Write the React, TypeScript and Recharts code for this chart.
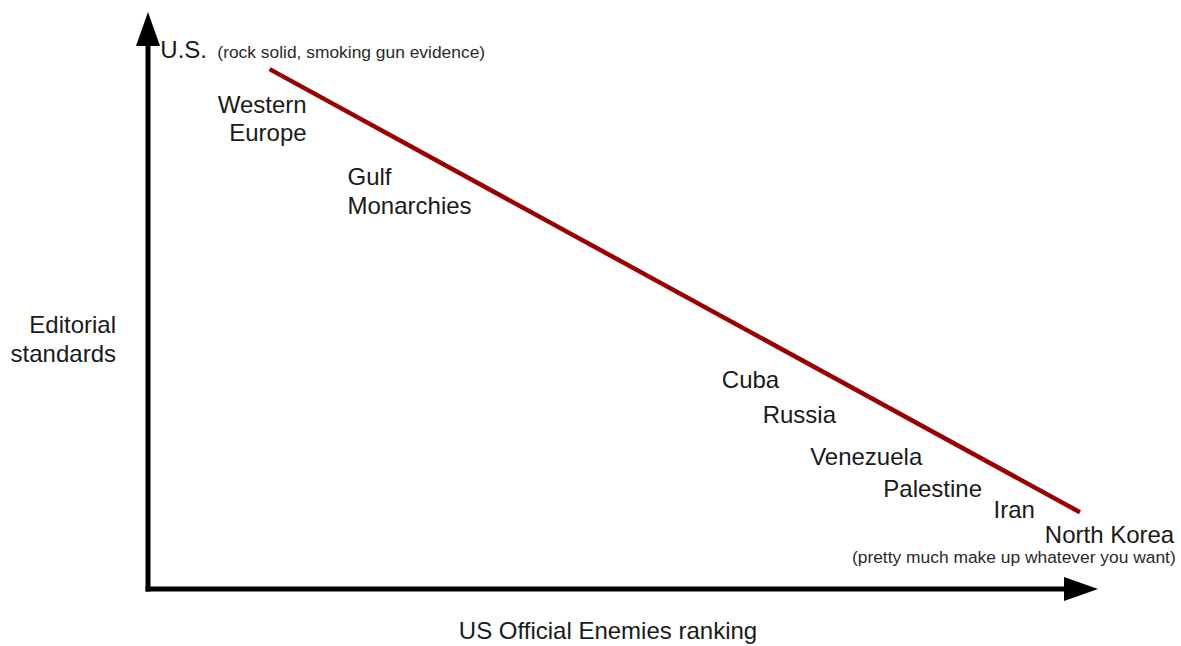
import React from "react";
import {
  ComposedChart,
  XAxis,
  YAxis,
  Line,
  Scatter,
  ReferenceLine,
} from "recharts";

// who gets named on the chart, and where they sit (x = enemies ranking, y = editorial standards)
const PLACES = [
  "U.S.",
  "Western Europe",
  "Gulf Monarchies",
  "Cuba",
  "Russia",
  "Venezuela",
  "Palestine",
  "Iran",
  "North Korea",
];
const RANKING = [0.13, 1.67, 2.1, 6.04, 6.47, 6.97, 7.74, 8.9, 9.44];
const STANDARDS = [9.2, 8.25, 7.0, 3.48, 2.88, 2.15, 1.59, 1.23, 0.8];

// the little bracketed asides
const NOTES = [
  "(rock solid, smoking gun evidence)",
  "(pretty much make up whatever you want)",
];
const NOTE_RANKING = [0.73, 7.41];
const NOTE_STANDARDS = [9.2, 0.45];

// the trend line
const TREND_RANKING = [1.28, 9.81];
const TREND_STANDARDS = [9.01, 1.33];

const X_TITLE = ["US Official Enemies ranking"];
const Y_TITLE = ["Editorial", "standards"];

const FONT = "'Liberation Sans', Arial, Helvetica, sans-serif";
const WRAPPED = new Set(["Western Europe", "Gulf Monarchies"]);
const ANCHOR: Record<string, "start" | "end"> = { "Western Europe": "end" };

const places = PLACES.map((name, i) => ({ name, x: RANKING[i], y: STANDARDS[i] }));
const notes = NOTES.map((name, i) => ({ name, x: NOTE_RANKING[i], y: NOTE_STANDARDS[i] }));
const trend = TREND_RANKING.map((x, i) => ({ x, y: TREND_STANDARDS[i] }));

function PlaceLabel(props: any) {
  const { cx, cy, payload } = props;
  const lines = WRAPPED.has(payload.name) ? payload.name.split(" ") : [payload.name];
  return (
    <text
      x={cx}
      y={cy}
      textAnchor={ANCHOR[payload.name] || "start"}
      fontFamily={FONT}
      fontSize={24}
      fill="#1a1a1a"
    >
      {lines.map((l: string, i: number) => (
        <tspan key={l} x={cx} dy={i === 0 ? 0 : 28.5}>
          {l}
        </tspan>
      ))}
    </text>
  );
}

function NoteLabel(props: any) {
  const { cx, cy, payload } = props;
  return (
    <text x={cx} y={cy} fontFamily={FONT} fontSize={17.4} fill="#2a2a2a">
      {payload.name}
    </text>
  );
}

// thick axis with a filled arrowhead; the axis title hangs off it
function AxisArrow(props: any) {
  const { x1, y1, x2, y2, title, vertical } = props;
  const len = Math.hypot(x2 - x1, y2 - y1);
  const ux = (x2 - x1) / len;
  const uy = (y2 - y1) / len;
  const head = 34;
  const half = 12;
  const bx = x2 - ux * head;
  const by = y2 - uy * head;
  const px = -uy;
  const py = ux;

  let titleEl = null;
  if (vertical) {
    const tx = x1 - 32;
    const mid = (y1 + y2) / 2;
    titleEl = (
      <text x={tx} y={mid + 32} textAnchor="end" fontFamily={FONT} fontSize={24} fill="#1a1a1a">
        {title.map((l: string, i: number) => (
          <tspan key={l} x={tx} dy={i === 0 ? 0 : 29}>
            {l}
          </tspan>
        ))}
      </text>
    );
  } else {
    titleEl = (
      <text
        x={(x1 + x2) / 2 - 15}
        y={y1 + 50}
        textAnchor="middle"
        fontFamily={FONT}
        fontSize={24}
        fill="#1a1a1a"
      >
        {title[0]}
      </text>
    );
  }

  return (
    <g>
      <line
        x1={x1}
        y1={y1}
        x2={bx + ux * 2}
        y2={by + uy * 2}
        stroke="#000"
        strokeWidth={5}
        strokeLinecap="square"
      />
      <polygon
        points={`${x2},${y2} ${bx + px * half},${by + py * half} ${bx - px * half},${by - py * half}`}
        fill="#000"
      />
      {titleEl}
    </g>
  );
}

export default function App() {
  return (
    <div style={{ position: "absolute", left: 0, top: 0, background: "#fff" }}>
      <ComposedChart
        width={1181}
        height={646}
        margin={{ top: 12, right: 83, bottom: 57, left: 148 }}
      >
        <XAxis type="number" dataKey="x" domain={[0, 10]} hide />
        <YAxis type="number" dataKey="y" domain={[0, 10]} hide />
        <ReferenceLine
          segment={[
            { x: 0, y: 0 },
            { x: 0, y: 10 },
          ]}
          shape={(p: any) => <AxisArrow {...p} title={Y_TITLE} vertical />}
        />
        <ReferenceLine
          segment={[
            { x: 0, y: 0 },
            { x: 10, y: 0 },
          ]}
          shape={(p: any) => <AxisArrow {...p} title={X_TITLE} />}
        />
        <Line
          data={trend}
          dataKey="y"
          stroke="#990000"
          strokeWidth={4.5}
          dot={false}
          activeDot={false}
          isAnimationActive={false}
        />
        <Scatter data={places} dataKey="y" shape={PlaceLabel} isAnimationActive={false} />
        <Scatter data={notes} dataKey="y" shape={NoteLabel} isAnimationActive={false} />
      </ComposedChart>
    </div>
  );
}
